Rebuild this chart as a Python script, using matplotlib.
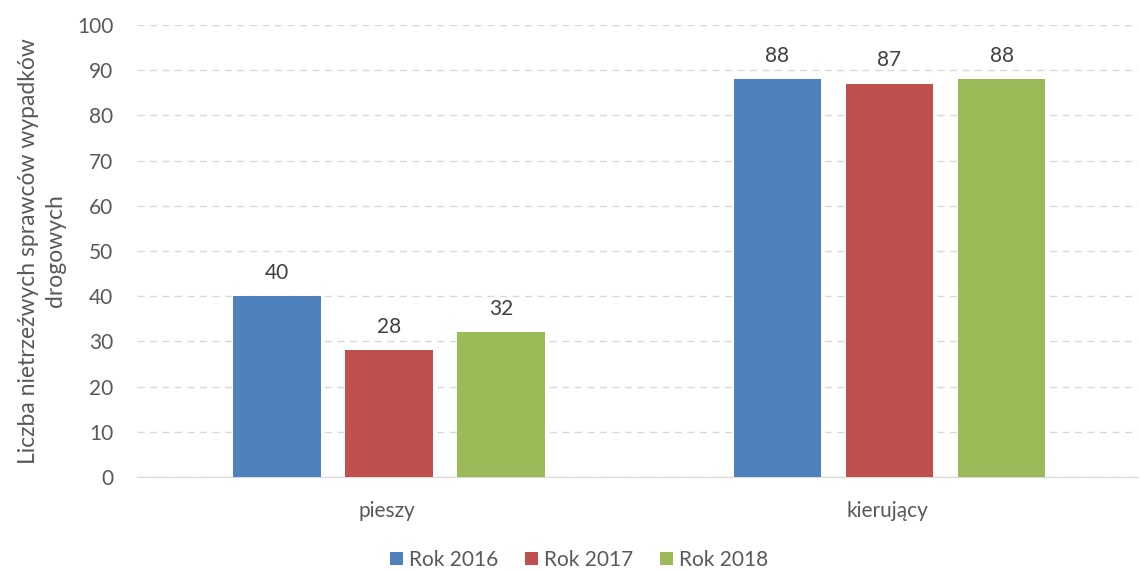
import matplotlib.pyplot as plt
import numpy as np

plt.rcParams['font.family'] = ['Lato', 'DejaVu Sans']

categories = ['pieszy', 'kierujący']
series = ['Rok 2016', 'Rok 2017', 'Rok 2018']
values = [[40, 88], [28, 87], [32, 88]]
colors = ['#4F81BD', '#C0504D', '#9BBB59']
txt = '#595959'

fig = plt.figure(figsize=(11.4, 5.71), dpi=100)
ax = fig.add_axes([0.120, 0.1646, 0.878, 0.7915])

x = np.arange(len(categories))
w = 0.175
step = 0.224
for i, (name, vals) in enumerate(zip(series, values)):
    bars = ax.bar(x + (i - 1) * step + 0.004, vals, w, color=colors[i], label=name, zorder=3)
    for b, v in zip(bars, vals):
        ax.text(b.get_x() + b.get_width() / 2, v + 3.0, str(v), ha='center', va='bottom',
                fontsize=15, color='#404040')

ax.set_xlim(-0.5, 1.5)
ax.set_ylim(0, 100)
ax.set_yticks(range(0, 101, 10))
ax.set_xticks(x)
ax.set_xticklabels(categories)
ax.grid(axis='y', color='#D9D9D9', linestyle=(0, (5, 4)), linewidth=1, zorder=0)
for s in ['top', 'right', 'left']:
    ax.spines[s].set_visible(False)
ax.spines['bottom'].set_color('#D9D9D9')
ax.tick_params(axis='both', length=0, labelsize=15, colors=txt)
ax.tick_params(axis='y', pad=17)
ax.tick_params(axis='x', pad=17)

ax.set_ylabel('Liczba nietrzeźwych sprawców wypadków\ndrogowych', fontsize=16.5, color=txt,
              labelpad=8, linespacing=1.35)

ax.legend(loc='center', bbox_to_anchor=(0.442, -0.184), ncol=3, frameon=False,
          fontsize=15, labelcolor=txt, handlelength=0.6, handleheight=0.6,
          handletextpad=0.3, columnspacing=1.3)

fig.savefig('out.png', dpi=100)
